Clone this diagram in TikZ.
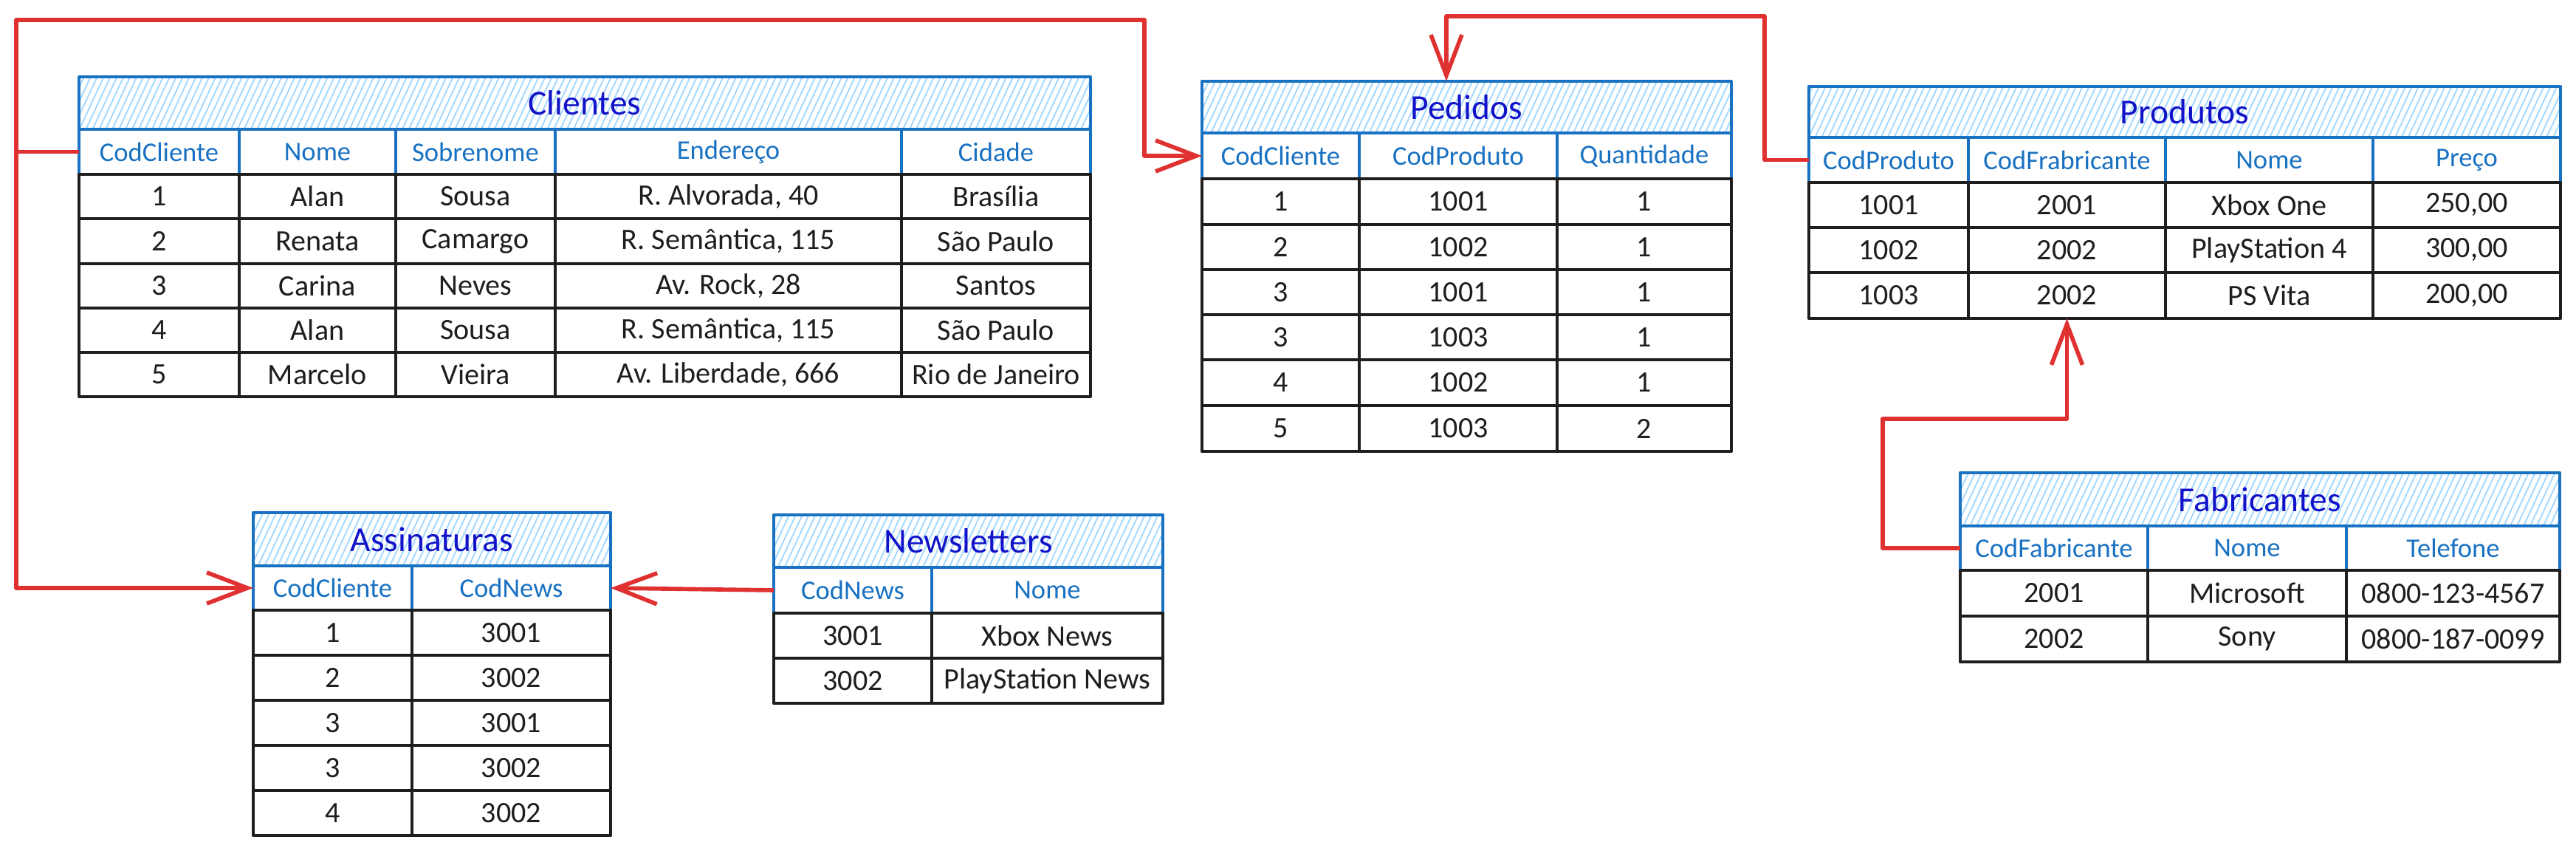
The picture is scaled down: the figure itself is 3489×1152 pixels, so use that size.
\documentclass[tikz,border=0pt]{standalone}
\usepackage{fontspec}
\setmainfont{Carlito}
\usetikzlibrary{arrows.meta,patterns.meta}
\definecolor{xblue}{HTML}{1971C2}
\definecolor{xhatch}{HTML}{A5D8FF}
\definecolor{xtitle}{HTML}{1212C8}
\definecolor{xred}{HTML}{E03131}
\definecolor{xblack}{HTML}{1E1E1E}
\newcommand\tcell[7]{\node[#1,minimum width={(#5-#3)*0.01cm},minimum height={(#6-#4)*0.01cm}] (#2) at ({(#3+#5)/2},{(#4+#6)/2}) {#7};}
\tikzset{
 base/.style={rectangle, inner sep=0pt, outer sep=0pt, line width=1.35pt, line join=round},
 titlecell/.style={base, draw=xblue, pattern={Lines[angle=65,distance=2.3pt,line width=0.55pt]}, pattern color=xhatch, text=xtitle, font=\fontsize{13.5}{15}\selectfont},
 headcell/.style={base, draw=xblue, fill=white, text=xblue, font=\fontsize{10.4}{12}\selectfont},
 datacell/.style={base, draw=xblack, fill=white, text=xblack, font=\fontsize{11.4}{13}\selectfont},
 conn/.style={draw=xred, line width=1.6pt, line join=round},
 arr/.style={-{Straight Barb[length=5.5mm,width=4.2mm]}}
}
\begin{document}
\begin{tikzpicture}[x=0.01cm,y=-0.01cm]
\fill[white] (0,0) rectangle (3489,1152);
\useasboundingbox (0,0) rectangle (3489,1152);

% ---------- Clientes ----------
\tcell{titlecell}{cli}{107}{104}{1477}{175}{Clientes}
\tcell{headcell}{cli-h-1}{107}{175}{324}{236}{CodCliente}
\tcell{headcell}{cli-h-2}{324}{175}{536}{236}{Nome}
\tcell{headcell}{cli-h-3}{536}{175}{752}{236}{Sobrenome}
\tcell{headcell}{cli-h-4}{752}{175}{1221}{236}{Endereço}
\tcell{headcell}{cli-h-5}{1221}{175}{1477}{236}{Cidade}
\foreach \n/\ya/\yb/\a/\b/\c/\d/\e in {
 1/236/296/1/Alan/Sousa/{R. Alvorada, 40}/Brasília,
 2/296/357/2/Renata/Camargo/{R. Semântica, 115}/São Paulo,
 3/357/417/3/Carina/Neves/{Av. Rock, 28}/Santos,
 4/417/477/4/Alan/Sousa/{R. Semântica, 115}/São Paulo,
 5/477/537/5/Marcelo/Vieira/{Av. Liberdade, 666}/Rio de Janeiro}{
 \tcell{datacell}{cli-\n-1}{107}{\ya}{324}{\yb}{\a}
 \tcell{datacell}{cli-\n-2}{324}{\ya}{536}{\yb}{\b}
 \tcell{datacell}{cli-\n-3}{536}{\ya}{752}{\yb}{\c}
 \tcell{datacell}{cli-\n-4}{752}{\ya}{1221}{\yb}{\d}
 \tcell{datacell}{cli-\n-5}{1221}{\ya}{1477}{\yb}{\e}
}

% ---------- Pedidos ----------
\tcell{titlecell}{ped}{1628}{110}{2345}{180}{Pedidos}
\tcell{headcell}{ped-h-1}{1628}{180}{1841}{242}{CodCliente}
\tcell{headcell}{ped-h-2}{1841}{180}{2109}{242}{CodProduto}
\tcell{headcell}{ped-h-3}{2109}{180}{2345}{242}{Quantidade}
\foreach \n/\ya/\yb/\a/\b/\c in {
 1/242/304/1/1001/1, 2/304/365/2/1002/1, 3/365/426/3/1001/1,
 4/426/487/3/1003/1, 5/487/549/4/1002/1, 6/549/611/5/1003/2}{
 \tcell{datacell}{ped-\n-1}{1628}{\ya}{1841}{\yb}{\a}
 \tcell{datacell}{ped-\n-2}{1841}{\ya}{2109}{\yb}{\b}
 \tcell{datacell}{ped-\n-3}{2109}{\ya}{2345}{\yb}{\c}
}

% ---------- Produtos ----------
\tcell{titlecell}{pro}{2450}{117}{3468}{186}{Produtos}
\tcell{headcell}{pro-h-1}{2450}{186}{2666}{247}{CodProduto}
\tcell{headcell}{pro-h-2}{2666}{186}{2933}{247}{CodFrabricante}
\tcell{headcell}{pro-h-3}{2933}{186}{3214}{247}{Nome}
\tcell{headcell}{pro-h-4}{3214}{186}{3468}{247}{Preço}
\foreach \n/\ya/\yb/\a/\b/\c/\d in {
 1/247/308/1001/2001/Xbox One/{250,00},
 2/308/369/1002/2002/PlayStation 4/{300,00},
 3/369/431/1003/2002/PS Vita/{200,00}}{
 \tcell{datacell}{pro-\n-1}{2450}{\ya}{2666}{\yb}{\a}
 \tcell{datacell}{pro-\n-2}{2666}{\ya}{2933}{\yb}{\b}
 \tcell{datacell}{pro-\n-3}{2933}{\ya}{3214}{\yb}{\c}
 \tcell{datacell}{pro-\n-4}{3214}{\ya}{3468}{\yb}{\d}
}

% ---------- Fabricantes ----------
\tcell{titlecell}{fab}{2655}{640}{3467}{712}{Fabricantes}
\tcell{headcell}{fab-h-1}{2655}{712}{2909}{772}{CodFabricante}
\tcell{headcell}{fab-h-2}{2909}{712}{3178}{772}{Nome}
\tcell{headcell}{fab-h-3}{3178}{712}{3467}{772}{Telefone}
\foreach \n/\ya/\yb/\a/\b/\c in {
 1/772/834/2001/Microsoft/0800-123-4567,
 2/834/896/2002/Sony/0800-187-0099}{
 \tcell{datacell}{fab-\n-1}{2655}{\ya}{2909}{\yb}{\a}
 \tcell{datacell}{fab-\n-2}{2909}{\ya}{3178}{\yb}{\b}
 \tcell{datacell}{fab-\n-3}{3178}{\ya}{3467}{\yb}{\c}
}

% ---------- Assinaturas ----------
\tcell{titlecell}{ass}{343}{694}{827}{766}{Assinaturas}
\tcell{headcell}{ass-h-1}{343}{766}{558}{826}{CodCliente}
\tcell{headcell}{ass-h-2}{558}{766}{827}{826}{CodNews}
\foreach \n/\ya/\yb/\a/\b in {
 1/826/887/1/3001, 2/887/948/2/3002, 3/948/1009/3/3001,
 4/1009/1070/3/3002, 5/1070/1131/4/3002}{
 \tcell{datacell}{ass-\n-1}{343}{\ya}{558}{\yb}{\a}
 \tcell{datacell}{ass-\n-2}{558}{\ya}{827}{\yb}{\b}
}

% ---------- Newsletters ----------
\tcell{titlecell}{nws}{1048}{697}{1575}{768}{Newsletters}
\tcell{headcell}{nws-h-1}{1048}{768}{1262}{830}{CodNews}
\tcell{headcell}{nws-h-2}{1262}{768}{1575}{830}{Nome}
\foreach \n/\ya/\yb/\a/\b in {
 1/830/891/3001/Xbox News, 2/891/952/3002/PlayStation News}{
 \tcell{datacell}{nws-\n-1}{1048}{\ya}{1262}{\yb}{\a}
 \tcell{datacell}{nws-\n-2}{1262}{\ya}{1575}{\yb}{\b}
}

% ---------- connectors ----------
\coordinate (lft) at (22,0);
\coordinate (top1) at (22,27);
\coordinate (top2) at (1550,27);
\draw[conn,arr] (cli-h-1.west) -| (top1) -- (top2) |- (ped-h-1.west);
\draw[conn,arr] (cli-h-1.west) -| (lft |- ass-h-1.west) -- (ass-h-1.west);
\draw[conn,arr] (nws-h-1.west) -- (ass-h-2.east);
\coordinate (pk1) at (2390,22);
\coordinate (pk2) at (1959,22);
\draw[conn,arr] (pro-h-1.west) -| (pk1) -- (pk2) -- (pk2 |- ped.north);
\coordinate (fk) at (2550,567);
\draw[conn,arr] (fab-h-1.west) -| (fk) -| (pro-3-2.south);
\end{tikzpicture}
\end{document}
